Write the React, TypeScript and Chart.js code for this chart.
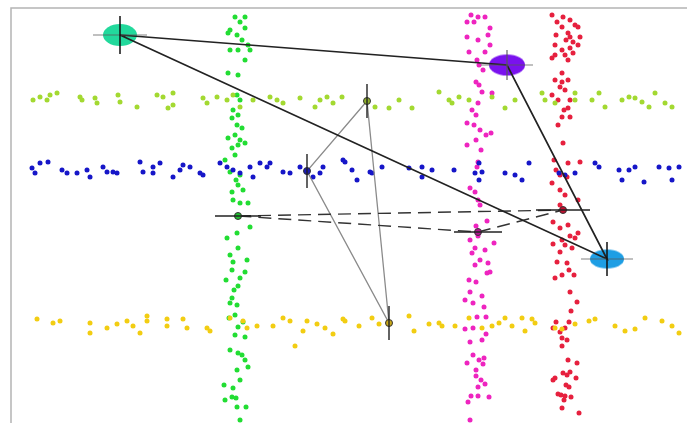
import React, { useEffect, useRef } from "react";
import { Chart, registerables } from "chart.js";

Chart.register(...registerables);

type P = [number, number];

// Horizontal bands
const yellowGreenPts: P[] = [[33,100],[40,97],[47,100],[50,95],[57,93],[80,97],[82,100],[95,98],[97,103],[118,95],[120,102],[137,107],[157,95],[163,97],[173,93],[168,108],[173,105],[203,98],[207,103],[217,97],[227,100],[233,95],[240,107],[253,100],[270,97],[277,100],[283,103],[300,98],[315,107],[320,100],[327,97],[333,103],[342,97],[375,107],[389,108],[399,100],[412,108],[439,92],[449,100],[452,103],[459,97],[469,100],[492,97],[505,108],[515,100],[542,93],[545,100],[555,103],[575,93],[575,100],[592,100],[599,93],[605,107],[622,100],[629,97],[635,98],[642,102],[649,107],[655,93],[665,103],[672,107]];

const bluePts: P[] = [[32,168],[35,173],[40,163],[48,162],[62,170],[67,173],[77,173],[87,170],[90,177],[103,167],[107,172],[113,172],[117,173],[140,162],[143,172],[153,167],[153,173],[160,163],[173,177],[180,170],[183,165],[190,167],[200,173],[203,175],[220,163],[227,167],[233,170],[240,173],[250,167],[253,177],[260,163],[267,167],[270,163],[283,172],[290,173],[300,167],[307,172],[313,177],[320,173],[323,167],[343,160],[345,162],[352,170],[357,180],[370,172],[372,173],[382,167],[409,168],[422,167],[422,177],[432,170],[454,170],[475,173],[479,163],[482,172],[479,180],[505,173],[515,175],[522,180],[529,163],[559,173],[565,175],[575,173],[595,163],[599,167],[619,170],[622,180],[629,170],[635,167],[644,182],[659,167],[669,168],[672,180],[679,167]];

const goldPts: P[] = [[37,319],[53,323],[60,321],[90,323],[90,333],[107,328],[117,324],[127,321],[133,326],[140,333],[147,316],[147,321],[167,319],[167,326],[183,319],[187,328],[207,328],[210,331],[230,318],[243,321],[247,328],[257,326],[273,326],[283,318],[290,321],[295,346],[307,321],[303,331],[317,324],[325,328],[333,334],[343,319],[345,321],[359,326],[372,318],[379,324],[409,316],[414,331],[429,324],[439,323],[442,326],[455,326],[469,318],[482,328],[492,326],[499,323],[505,318],[512,326],[522,318],[532,319],[535,323],[525,331],[555,328],[562,329],[575,324],[589,321],[595,319],[615,326],[625,331],[635,329],[645,318],[662,321],[672,326],[679,333]];

// Vertical bands
const greenPts: P[] = [[235,17],[245,17],[240,22],[230,30],[245,28],[237,35],[228,33],[242,40],[248,45],[230,50],[238,50],[250,50],[245,60],[228,73],[238,75],[237,95],[240,100],[233,110],[232,118],[238,115],[237,125],[242,128],[235,135],[228,138],[240,140],[245,143],[232,148],[238,145],[235,155],[225,160],[230,172],[240,175],[236,180],[238,185],[232,192],[243,190],[233,200],[240,203],[248,203],[237,216],[250,227],[237,233],[227,238],[238,248],[230,255],[233,262],[247,260],[232,270],[245,272],[240,278],[226,280],[238,286],[234,290],[232,298],[230,303],[237,305],[235,315],[229,318],[243,322],[238,327],[235,335],[245,337],[230,350],[238,353],[242,355],[245,360],[248,367],[237,370],[240,380],[224,385],[233,388],[232,397],[236,398],[225,400],[237,407],[246,407],[240,420]];

const magentaPts: P[] = [[471,15],[478,17],[485,17],[467,22],[474,22],[490,28],[467,37],[478,40],[488,35],[490,45],[469,52],[485,52],[477,60],[479,65],[483,70],[476,82],[479,85],[482,92],[492,93],[478,103],[472,110],[476,115],[467,123],[474,125],[480,130],[486,135],[491,133],[476,140],[467,145],[481,150],[478,162],[477,167],[470,188],[475,192],[478,200],[480,205],[487,221],[476,226],[470,240],[478,236],[494,243],[475,248],[472,253],[485,250],[480,260],[488,263],[475,265],[490,272],[487,273],[469,280],[476,282],[470,292],[482,296],[465,300],[473,303],[484,307],[477,317],[486,317],[465,329],[473,328],[486,334],[482,340],[470,342],[473,355],[479,360],[484,358],[483,364],[467,363],[476,370],[476,376],[481,380],[478,387],[485,384],[471,396],[478,396],[489,397],[468,402],[470,420]];

const redPts: P[] = [[552,15],[563,17],[570,20],[557,22],[562,27],[575,25],[578,27],[556,35],[568,33],[570,37],[580,37],[555,45],[566,40],[573,42],[578,45],[562,50],[570,48],[555,55],[565,55],[573,53],[552,58],[568,60],[562,73],[555,80],[562,82],[568,80],[560,87],[565,90],[552,95],[558,100],[570,100],[568,108],[564,110],[562,117],[570,117],[558,125],[563,143],[554,160],[568,163],[580,162],[556,170],[560,175],[567,177],[552,183],[560,190],[565,195],[578,200],[560,205],[553,222],[568,225],[560,228],[570,236],[578,233],[575,238],[562,240],[553,244],[565,245],[572,248],[560,252],[557,262],[567,263],[569,270],[555,278],[562,275],[574,275],[570,292],[577,302],[571,311],[556,322],[569,322],[553,328],[565,328],[560,332],[562,338],[567,340],[562,346],[568,360],[570,372],[577,363],[563,373],[567,375],[555,378],[576,378],[553,380],[566,385],[569,387],[561,395],[558,394],[565,396],[564,400],[571,397],[562,408],[579,413]];

// Big cluster means (ellipses) and their triangle
const bigMeans: P[] = [[120,35],[507,65],[607,259]];
const bigColors = ["#22d99c", "#7a12ee", "#1e9ee4"];
const bigSizes: P[] = [[34,22],[36,21],[34,19]];
const bigErrX = [27, 26, 26];
const bigErrY = [19, 15, 17];

// Horizontal-band means (grey triangle)
const hMeans: P[] = [[367,101],[307,171],[389,323]];
const hColors = ["#8fb02a", "#1a1ab8", "#c9a818"];
const hErrY = [17, 17, 17];

// Vertical-band means (dashed triangle)
const vMeans: P[] = [[238,216],[563,210],[478,232]];
const vColors = ["#20c030", "#c01030", "#b01890"];
const vErrX = [23, 27, 24];

const toXY = (pts: P[]) => pts.map(([x, y]) => ({ x, y }));
const closed = (pts: P[]) => toXY([...pts, pts[0]]);

function ellipseStyle(w: number, h: number, color: string): HTMLCanvasElement {
  const c = document.createElement("canvas");
  c.width = w + 4;
  c.height = h + 4;
  const ctx = c.getContext("2d")!;
  ctx.fillStyle = color;
  ctx.beginPath();
  ctx.ellipse(c.width / 2, c.height / 2, w / 2, h / 2, 0, 0, Math.PI * 2);
  ctx.fill();
  return c;
}

const errorBarPlugin = {
  id: "errorBars",
  afterDatasetsDraw(chart: any) {
    const { ctx } = chart;
    const xs = chart.scales.x;
    const ys = chart.scales.y;
    const seg = (x1: number, y1: number, x2: number, y2: number, color: string, w: number) => {
      ctx.save();
      ctx.strokeStyle = color;
      ctx.lineWidth = w;
      ctx.beginPath();
      ctx.moveTo(xs.getPixelForValue(x1), ys.getPixelForValue(y1));
      ctx.lineTo(xs.getPixelForValue(x2), ys.getPixelForValue(y2));
      ctx.stroke();
      ctx.restore();
    };
    bigMeans.forEach(([x, y], i) => {
      seg(x - bigErrX[i], y, x + bigErrX[i], y, "rgba(90,90,90,0.75)", 1.2);
      seg(x, y - bigErrY[i], x, y + bigErrY[i], i === 1 ? "rgba(90,90,90,0.75)" : "#111", 1.5);
    });
    hMeans.forEach(([x, y], i) => {
      seg(x, y - hErrY[i], x, y + hErrY[i], "#222", 1.4);
    });
    vMeans.forEach(([x, y], i) => {
      seg(x - vErrX[i], y, x + vErrX[i], y, "#222", 1.3);
    });
  },
};

const framePlugin = {
  id: "frame",
  beforeDatasetsDraw(chart: any) {
    const { ctx, chartArea } = chart;
    ctx.save();
    ctx.strokeStyle = "#b4b4b4";
    ctx.lineWidth = 1.5;
    ctx.beginPath();
    ctx.moveTo(chartArea.left, chartArea.bottom);
    ctx.lineTo(chartArea.left, chartArea.top);
    ctx.lineTo(chartArea.right, chartArea.top);
    ctx.stroke();
    ctx.restore();
  },
};

export default function App() {
  const ref = useRef<HTMLCanvasElement | null>(null);
  useEffect(() => {
    if (!ref.current) return;
    const dot = (pts: P[], color: string) => ({
      type: "scatter" as const,
      data: toXY(pts),
      backgroundColor: color,
      borderWidth: 0,
      pointRadius: 2.5,
      showLine: false,
    });
    const chart = new Chart(ref.current, {
      type: "scatter",
      data: {
        datasets: [
          {
            data: [...toXY(hMeans), ...toXY(vMeans)],
            backgroundColor: [...hColors, ...vColors],
            borderColor: "#333",
            borderWidth: 1,
            pointRadius: 3.5,
            showLine: false,
          } as any,
          {
            data: closed(bigMeans),
            borderColor: "#222",
            borderWidth: 1.7,
            pointRadius: 0,
            showLine: true,
          },
          {
            data: closed(vMeans),
            borderColor: "#333",
            borderWidth: 1.4,
            borderDash: [13, 7],
            pointRadius: 0,
            showLine: true,
          },
          {
            data: closed(hMeans),
            borderColor: "#8a8a8a",
            borderWidth: 1.3,
            pointRadius: 0,
            showLine: true,
          },
          {
            data: toXY(bigMeans),
            pointStyle: bigMeans.map((_, i) => ellipseStyle(bigSizes[i][0], bigSizes[i][1], bigColors[i])),
            pointRadius: 12,
            showLine: false,
          } as any,
          dot(yellowGreenPts, "#a3d931"),
          dot(bluePts, "#1616c8"),
          dot(goldPts, "#f2cd12"),
          dot(greenPts, "#22dd33"),
          dot(magentaPts, "#ee24bf"),
          dot(redPts, "#e6203e"),
        ],
      },
      options: {
        animation: false,
        responsive: false,
        devicePixelRatio: 1,
        layout: { autoPadding: false, padding: { left: 11, top: 8, right: 0, bottom: 0 } },
        plugins: { legend: { display: false }, tooltip: { enabled: false } },
        scales: {
          x: { type: "linear", min: 11, max: 687, display: false },
          y: { type: "linear", min: 8, max: 423, reverse: true, display: false },
        },
      },
      plugins: [framePlugin, errorBarPlugin],
    });
    return () => chart.destroy();
  }, []);
  return (
    <div style={{ position: "absolute", left: 0, top: 0, width: 687, height: 423, background: "#fff" }}>
      <canvas ref={ref} width={687} height={423} style={{ display: "block" }} />
    </div>
  );
}
